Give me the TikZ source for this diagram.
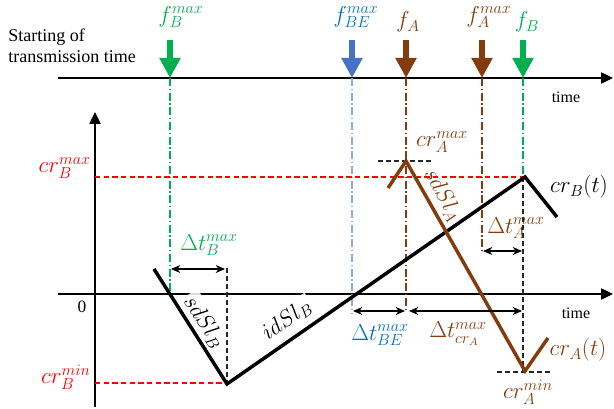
\documentclass[tikz,border=0pt]{standalone}
\usepackage{fontspec}
\setmainfont{Liberation Serif}
\usetikzlibrary{arrows.meta}
\definecolor{cgreen}{HTML}{00B050}
\definecolor{cblue}{HTML}{4472C4}
\definecolor{cbluel}{HTML}{8FAADC}
\definecolor{cbluet}{HTML}{0070C0}
\definecolor{cbrown}{HTML}{843C0C}
\definecolor{cred}{HTML}{FF0000}
\begin{document}
\begin{tikzpicture}[x=0.75pt,y=-0.75pt,
  mlabel/.style={font=\fontsize{16.5}{18}\selectfont, inner sep=0pt},
  tlabel/.style={font=\fontsize{12}{14}\selectfont, inner sep=0pt},
  stxt/.style={font=\fontsize{13.5}{16}\selectfont, inner sep=0pt, anchor=base west},
  axisarr/.style={line width=1pt, -{Triangle[length=9pt,width=8.5pt]}},
  blockarr/.style={line width=4.5pt, -{Triangle[length=15pt,width=15pt]}},
  ddot/.style={line width=0.8pt, dash pattern=on 6pt off 2pt on 1pt off 2pt},
  reddash/.style={cred, line width=0.8pt, dash pattern=on 4pt off 2.5pt},
  blkdash/.style={black!85, line width=0.9pt, dash pattern=on 3.5pt off 2.5pt},
  curveline/.style={line width=2.6pt, line join=miter, miter limit=10},
  dblarr/.style={line width=0.8pt, {Stealth[length=7pt,width=6pt]}-{Stealth[length=7pt,width=6pt]}},
  slopelbl/.style={mlabel, fill=white, fill opacity=0.85, text opacity=1, inner sep=2pt}
]
\useasboundingbox (0,0) rectangle (614,409);

% ---------- coordinates ----------
\coordinate (ta0) at (58,78);
\coordinate (ta1) at (162,78);
\coordinate (ta2) at (613,78);
\coordinate (ba0) at (58,294);
\coordinate (ba1) at (613,294);
\coordinate (va0) at (95,407);
\coordinate (va1) at (95,112);

\coordinate (gBt) at (170,40);  \coordinate (gBb) at (170,78);
\coordinate (bEt) at (352,40);  \coordinate (bEb) at (352,78);
\coordinate (fAt) at (406,40);  \coordinate (fAb) at (406,78);
\coordinate (fAmt) at (482,40); \coordinate (fAmb) at (482,78);
\coordinate (fBt) at (523,40);  \coordinate (fBb) at (523,78);

\coordinate (gBd) at (170,294);
\coordinate (bEd) at (352,313);
\coordinate (fAd) at (406,312);
\coordinate (fAmd) at (482,251);
\coordinate (fBd) at (523,177);

\coordinate (rmax0) at (95,177);
\coordinate (rmin0) at (95,383);
\coordinate (Bmin) at (227,383);

\coordinate (B0) at (154,269);
\coordinate (B1) at (227,384);
\coordinate (B2) at (525,177);
\coordinate (B3) at (557,217);
\coordinate (A0) at (388,188);
\coordinate (A1) at (406,161);
\coordinate (A2) at (525,371);
\coordinate (A3) at (548,338);

\coordinate (dBt) at (227,268);
\coordinate (dAb) at (523,372);
\coordinate (hA0) at (378,161); \coordinate (hA1) at (432,161);
\coordinate (lA0) at (497,372); \coordinate (lA1) at (550,372);

\coordinate (tB0) at (171,269); \coordinate (tB1) at (225,269);
\coordinate (tA0) at (483,251); \coordinate (tA1) at (522,251);
\coordinate (tE0) at (353,311); \coordinate (tE1) at (405,311);
\coordinate (tC0) at (409,311); \coordinate (tC1) at (522,311);

% ---------- texts ----------
\node[stxt] (st1) at (8,42) {Starting of};
\node[stxt] (st2) at (8,63) {transmission time};
\node[tlabel] (time1) at (566,97) {time};
\node[tlabel] (time2) at (576,313) {time};
\node[tlabel, font=\fontsize{13}{15}\selectfont] (zero) at (82,307) {0};

\node[mlabel, text=cgreen] (lfBm) at (181,17) {$f_B^{max}$};
\node[mlabel, text=cbluet] (lfBE) at (356,17) {$f_{BE}^{max}$};
\node[mlabel, text=cbrown] (lfA) at (408,22) {$f_A$};
\node[mlabel, text=cbrown] (lfAm) at (489,17) {$f_A^{max}$};
\node[mlabel, text=cgreen] (lfB) at (527,22) {$f_B$};

\node[mlabel, text=cred, anchor=east] (lcrBmax) at (91,168) {$cr_B^{max}$};
\node[mlabel, text=cred, anchor=east] (lcrBmin) at (91,377) {$cr_B^{min}$};
\node[mlabel, text=cgreen] (ltB) at (209,245) {$\Delta t_B^{max}$};
\node[mlabel, text=cbrown] (lcrAmax) at (442,142) {$cr_A^{max}$};
\node[mlabel, text=cbrown] (lcrAmin) at (528,392) {$cr_A^{min}$};
\node[mlabel] (lcrB) at (579,187) {$cr_B(t)$};
\node[mlabel, text=cbrown] (lcrA) at (578,350) {$cr_A(t)$};
\node[mlabel, text=cbrown] (ltA) at (516,228) {$\Delta t_A^{max}$};
\node[mlabel, text=cbluet] (ltE) at (380,335) {$\Delta t_{BE}^{max}$};
\node[mlabel, text=cbrown] (ltC) at (458,334) {$\Delta t_{cr_A}^{max}$};

% ---------- axes ----------
\draw[line width=2.2pt] (ta0) -- (ta1);
\draw[axisarr] (ta1) -- (ta2);
\draw[axisarr] (ba0) -- (ba1);
\draw[axisarr] (va0) -- (va1);

% ---------- slope labels ----------
\node[slopelbl, rotate=-57] (sdB) at (204,322) {$sdSl_B$};
\node[slopelbl, rotate=35] (idB) at (287,320) {$idSl_B$};
\node[slopelbl, rotate=-61, text=cbrown] (sdA) at (443,195) {$sdSl_A$};

% ---------- guide lines ----------
\draw[ddot, cgreen] (gBb) -- (gBd);
\draw[ddot, cbluel] (bEb) -- (bEd);
\draw[ddot, cbrown] (fAb) -- (fAd);
\draw[ddot, cbrown] (fAmb) -- (fAmd);
\draw[ddot, cgreen] (fBb) -- (fBd);

\draw[reddash] (rmax0) -- (fBd);
\draw[reddash] (rmin0) -- (Bmin);

\draw[blkdash] (dBt) -- (Bmin);
\draw[blkdash] (fBd) -- (dAb);
\draw[blkdash] (hA0) -- (hA1);
\draw[blkdash] (lA0) -- (lA1);

% ---------- block arrows ----------
\draw[blockarr, cgreen] (gBt) -- (gBb);
\draw[blockarr, cblue] (bEt) -- (bEb);
\draw[blockarr, cbrown] (fAt) -- (fAb);
\draw[blockarr, cbrown] (fAmt) -- (fAmb);
\draw[blockarr, cgreen] (fBt) -- (fBb);

% ---------- curves ----------
\draw[curveline] (B0) -- (B1) -- (B2) -- (B3);
\draw[curveline, cbrown] (A0) -- (A1) -- (A2) -- (A3);

% ---------- interval arrows ----------
\draw[dblarr] (tB0) -- (tB1);
\draw[dblarr] (tA0) -- (tA1);
\draw[dblarr] (tE0) -- (tE1);
\draw[dblarr] (tC0) -- (tC1);
\end{tikzpicture}
\end{document}
